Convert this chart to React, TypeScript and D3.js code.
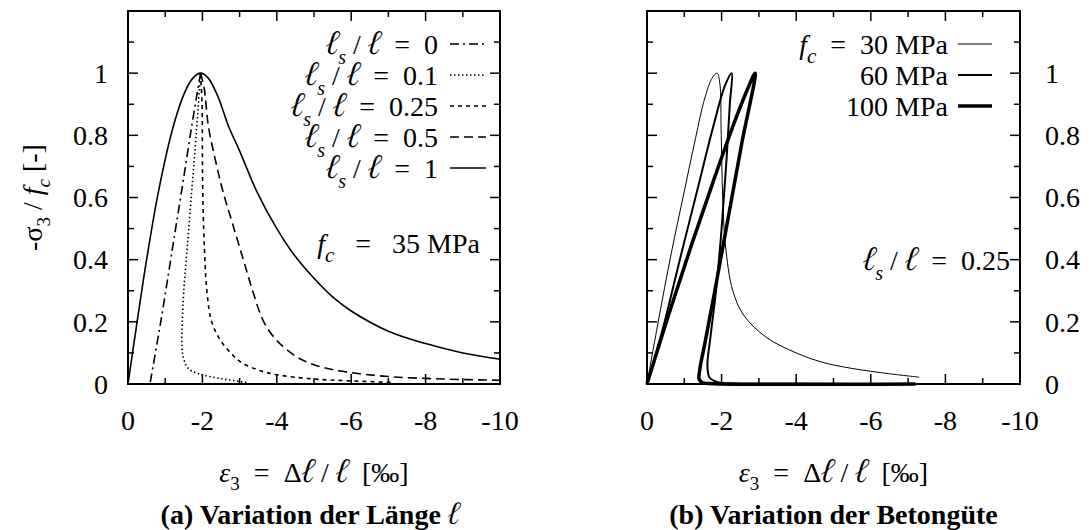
import React from "react";
import * as d3 from "d3";

// strain eps3 [permille], normalised stress -sigma3/fc
const lsZero = [[-1.95, 1.0], [-1.7, 0.82], [-1.44, 0.62], [-1.2, 0.44], [-0.88, 0.2], [-0.59, 0.0]];
const lsTenth = [[-1.95, 1.0], [-1.88, 0.88], [-1.8, 0.75], [-1.71, 0.616], [-1.6, 0.45], [-1.5, 0.3], [-1.46, 0.2], [-1.45, 0.12], [-1.5, 0.08], [-1.62, 0.05], [-1.85, 0.035], [-2.05, 0.028], [-2.5, 0.017], [-3.0, 0.008], [-3.2, 0.004]];
const lsQuarter = [[-1.95, 1.0], [-1.99, 0.9], [-2.0, 0.75], [-2.01, 0.616], [-2.05, 0.45], [-2.12, 0.3], [-2.25, 0.2], [-2.49, 0.14], [-2.8, 0.095], [-3.04, 0.07], [-3.5, 0.045], [-4.0, 0.03], [-5.0, 0.016], [-6.0, 0.01], [-7.1, 0.005]];
const lsHalf = [[-1.95, 1.0], [-2.05, 0.95], [-2.16, 0.83], [-2.35, 0.72], [-2.56, 0.616], [-2.8, 0.52], [-3.1, 0.4], [-3.35, 0.3], [-3.65, 0.2], [-4.0, 0.14], [-4.5, 0.09], [-5.0, 0.062], [-5.8, 0.04], [-7.0, 0.024], [-8.5, 0.016], [-10, 0.012]];
const lsOne = [[0, 0], [-0.22, 0.18], [-0.5, 0.4], [-0.82, 0.62], [-1.22, 0.83], [-1.53, 0.94], [-1.75, 0.985], [-1.95, 1.0], [-2.15, 0.985], [-2.4, 0.93], [-2.7, 0.83], [-3.0, 0.75], [-3.46, 0.62], [-4.0, 0.5], [-4.5, 0.41], [-5.0, 0.34], [-5.5, 0.28], [-6.0, 0.235], [-7.0, 0.17], [-8.0, 0.13], [-9.0, 0.1], [-10, 0.08]];

const fc30 = [[0, 0], [-0.3, 0.2], [-0.65, 0.42], [-1.0, 0.62], [-1.3, 0.79], [-1.55, 0.92], [-1.75, 0.985], [-1.88, 1.0], [-1.95, 0.97], [-1.99, 0.8], [-2.03, 0.6], [-2.1, 0.45], [-2.3, 0.3], [-2.6, 0.22], [-3.2, 0.15], [-4.0, 0.1], [-4.7, 0.07], [-5.5, 0.05], [-6.5, 0.033], [-7.3, 0.022]];
const fc60 = [[0, 0], [-0.44, 0.185], [-0.88, 0.4], [-1.33, 0.615], [-1.78, 0.83], [-2.09, 0.96], [-2.27, 1.0], [-2.22, 0.9], [-2.12, 0.7], [-2.0, 0.5], [-1.85, 0.3], [-1.7, 0.15], [-1.62, 0.06], [-1.68, 0.02], [-1.9, 0.006], [-2.4, 0.002], [-4.0, 0.0005], [-7.2, 0]];
const fc100 = [[0, 0], [-0.6, 0.23], [-1.2, 0.45], [-1.8, 0.66], [-2.4, 0.86], [-2.7, 0.95], [-2.9, 1.0], [-2.55, 0.78], [-2.2, 0.55], [-1.85, 0.32], [-1.55, 0.13], [-1.42, 0.05], [-1.4, 0.015], [-1.5, 0.004], [-1.8, 0.001], [-7.2, 0]];

const xTicks = [0, -1, -2, -3, -4, -5, -6, -7, -8, -9, -10];
const xLabels = [0, -2, -4, -6, -8, -10];
const yTicks = [0, 0.1, 0.2, 0.3, 0.4, 0.5, 0.6, 0.7, 0.8, 0.9, 1.0, 1.1];
const yLabels = [0, 0.2, 0.4, 0.6, 0.8, 1];

const lengthRatios = ["0", "0.1", "0.25", "0.5", "1"];
const strengths = ["30", "60", "100"];

const FONT = "'Liberation Serif', 'Times New Roman', serif";
const ELL = "FreeSerif, 'Liberation Serif', serif";
const SP = "\u00A0";
const top = 11, bottom = 384;

// script ell glyph, a bit larger so it reaches cap height
const Ell = ({ size = 34 }) => <tspan fontSize={size} style={{ fontFamily: ELL }}>ℓ</tspan>;

function Frame({ x0, x1, labelsRight }) {
  const xs = d3.scaleLinear().domain([0, -10]).range([x0, x1]);
  const ys = d3.scaleLinear().domain([0, 1.2]).range([bottom, top]);
  return (
    <g>
      {xTicks.map((t) => {
        const len = t % 2 === 0 ? 10 : 6;
        return (
          <g key={"x" + t}>
            <line x1={xs(t)} x2={xs(t)} y1={bottom} y2={bottom - len} stroke="#000" strokeWidth={1.5} />
            <line x1={xs(t)} x2={xs(t)} y1={top} y2={top + len} stroke="#000" strokeWidth={1.5} />
          </g>
        );
      })}
      {yTicks.map((t) => {
        const len = Math.round(t * 10) % 2 === 0 ? 10 : 6;
        return (
          <g key={"y" + t}>
            <line x1={x0} x2={x0 + len} y1={ys(t)} y2={ys(t)} stroke="#000" strokeWidth={1.5} />
            <line x1={x1} x2={x1 - len} y1={ys(t)} y2={ys(t)} stroke="#000" strokeWidth={1.5} />
          </g>
        );
      })}
      <rect x={x0} y={top} width={x1 - x0} height={bottom - top} fill="none" stroke="#000" strokeWidth={2} />
      {xLabels.map((t) => (
        <text key={"xl" + t} x={xs(t)} y={430} textAnchor="middle" fontSize={28}>{String(t)}</text>
      ))}
      {yLabels.map((t) => (
        <text key={"yl" + t} x={labelsRight ? x1 + 25 : x0 - 20} y={ys(t)} dy="0.35em"
          textAnchor={labelsRight ? "start" : "end"} fontSize={28}>{String(t)}</text>
      ))}
      <text x={(x0 + x1) / 2} y={482} textAnchor="middle" fontSize={28}>
        <tspan fontStyle="italic">ε</tspan>
        <tspan dy={8} fontSize={19}>3</tspan>
        <tspan dy={-8}>{SP}{SP}={SP}{SP}Δ</tspan>
        <Ell />
        <tspan>{SP}/{SP}</tspan>
        <Ell />
        <tspan>{SP}{SP}[‰]</tspan>
      </text>
    </g>
  );
}

function Ratio({ x, y, v }) {
  return (
    <text x={x} y={y} textAnchor="end" fontSize={28}>
      <Ell />
      <tspan dy={10} fontSize={20} fontStyle="italic">s</tspan>
      <tspan dy={-10}>{SP}/{SP}</tspan>
      <Ell />
      <tspan>{SP}{SP}={SP}{SP}{v}</tspan>
    </text>
  );
}

export default function App() {
  const ax0 = 128, ax1 = 500, bx0 = 647, bx1 = 1020;
  const xa = d3.scaleLinear().domain([0, -10]).range([ax0, ax1]);
  const xb = d3.scaleLinear().domain([0, -10]).range([bx0, bx1]);
  const ys = d3.scaleLinear().domain([0, 1.2]).range([bottom, top]);
  const lineA = d3.line().x((d) => xa(d[0])).y((d) => ys(d[1])).curve(d3.curveCatmullRom.alpha(0.5));
  const lineB = d3.line().x((d) => xb(d[0])).y((d) => ys(d[1])).curve(d3.curveCatmullRom.alpha(0.5));

  const seriesA = [
    { data: lsZero, dash: "9 4 2 4" },
    { data: lsTenth, dash: "1.5 2.5" },
    { data: lsQuarter, dash: "4 4" },
    { data: lsHalf, dash: "9 5" },
    { data: lsOne, dash: null },
  ];
  const seriesB = [
    { data: fc30, w: 1 },
    { data: fc60, w: 2 },
    { data: fc100, w: 3.5 },
  ];

  return (
    <svg width={1089} height={530} style={{ display: "block", position: "absolute", left: 0, top: 0, fontFamily: FONT }}>
      <rect width={1089} height={530} fill="#fff" />
      {/* panel a */}
      <g clipPath="url(#clipA)">
        {seriesA.map((s, i) => (
          <path key={i} d={lineA(s.data)} fill="none" stroke="#000" strokeWidth={1.6} strokeDasharray={s.dash || undefined} />
        ))}
      </g>
      <Frame x0={ax0} x1={ax1} labelsRight={false} />
      {lengthRatios.map((v, i) => (
        <g key={v}>
          <Ratio x={438} y={54 + i * 31} v={v} />
          <line x1={450} x2={486} y1={44 + i * 31} y2={44 + i * 31} stroke="#000" strokeWidth={1.6} strokeDasharray={seriesA[i].dash || undefined} />
        </g>
      ))}
      <text x={480} y={253} textAnchor="end" fontSize={28}>
        <tspan fontStyle="italic">f</tspan>
        <tspan dy={9} fontSize={21} fontStyle="italic">c</tspan>
        <tspan dy={-9}>{SP}{SP}{SP}={SP}{SP}{SP}35 MPa</tspan>
      </text>
      <text transform={`translate(42,${(top + bottom) / 2}) rotate(-90)`} textAnchor="middle" fontSize={28}>
        -σ<tspan dy={8} fontSize={19}>3</tspan>
        <tspan dy={-8}>{SP}/{SP}</tspan>
        <tspan fontStyle="italic">f</tspan>
        <tspan dy={8} fontSize={19} fontStyle="italic">c</tspan>
        <tspan dy={-8}>{SP}[-]</tspan>
      </text>
      <text x={(ax0 + ax1) / 2 - 4} y={524} textAnchor="middle" fontSize={28} fontWeight="bold">
        (a) Variation der Länge <tspan fontWeight="normal" fontSize={32} style={{ fontFamily: ELL }}>ℓ</tspan>
      </text>

      {/* panel b */}
      {seriesB.map((s, i) => (
        <path key={i} d={lineB(s.data)} fill="none" stroke="#000" strokeWidth={s.w} strokeLinejoin="round" />
      ))}
      <Frame x0={bx0} x1={bx1} labelsRight={true} />
      {strengths.map((v, i) => (
        <g key={v}>
          <text x={948} y={54 + i * 31} textAnchor="end" fontSize={28}>
            {i === 0 ? (
              <>
                <tspan fontStyle="italic">f</tspan>
                <tspan dy={9} fontSize={21} fontStyle="italic">c</tspan>
                <tspan dy={-9}>{SP}{SP}={SP}{SP}{v} MPa</tspan>
              </>
            ) : (
              `${v} MPa`
            )}
          </text>
          <line x1={958} x2={992} y1={44 + i * 31} y2={44 + i * 31} stroke="#000" strokeWidth={seriesB[i].w} />
        </g>
      ))}
      <Ratio x={1010} y={270} v="0.25" />
      <text x={(bx0 + bx1) / 2} y={524} textAnchor="middle" fontSize={28} fontWeight="bold">
        (b) Variation der Betongüte
      </text>
      <defs>
        <clipPath id="clipA">
          <rect x={ax0} y={top} width={ax1 - ax0} height={bottom - top} />
        </clipPath>
      </defs>
    </svg>
  );
}
